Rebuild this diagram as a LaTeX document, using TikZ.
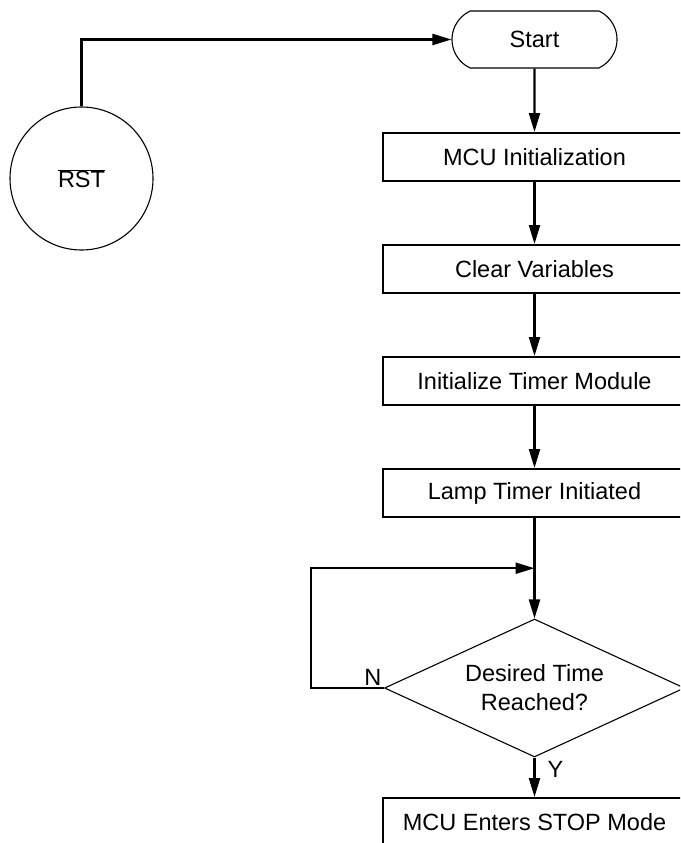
\documentclass[tikz,border=0pt]{standalone}
\usepackage{fontspec}
\setmainfont{Liberation Sans}
\usetikzlibrary{shapes.geometric,shapes.misc,arrows.meta}

\begin{document}
\begin{tikzpicture}[x=1pt,y=-1pt,
    every node/.style={font=\fontsize{23.5}{29}\selectfont},
    stepbox/.style={draw, rectangle, line width=2pt, minimum width=304pt, minimum height=48pt, inner sep=0pt},
    flow/.style={-{Triangle[length=19pt,width=11pt]}, line width=2.2pt}]
            \def\colx{534.5}

            % Page frame, boxes run off the right and bottom edge
            \useasboundingbox (0,0) rectangle (680,843);
            \clip (0,0) rectangle (680,843);

            % Reset circle and start terminal
            \node[draw, circle, line width=1.1pt, minimum size=143pt, inner sep=0pt] (rst) at (81.5,178.5) {$\overline{\mbox{RST}}$};
            \node[draw, rounded rectangle, rounded rectangle arc length=130, line width=1.1pt,
                  minimum width=165pt, minimum height=57pt, inner sep=0pt] (start) at (\colx,39.5) {Start};

            % Process boxes
            \node[stepbox] (init)  at (\colx,157) {MCU Initialization};
            \node[stepbox] (clear) at (\colx,269) {Clear Variables};
            \node[stepbox] (timer) at (\colx,381) {Initialize Timer Module};
            \node[stepbox] (lamp)  at (\colx,493) {Lamp Timer Initiated};

            % Decision and end box
            \node[draw, diamond, shape aspect=2.17, line width=1.1pt, minimum width=300pt, minimum height=138pt,
                  inner sep=0pt, align=center] (check) at (\colx,688) {Desired Time\\Reached?};
            \node[stepbox] (stop) at (\colx,822) {MCU Enters STOP Mode};

            % Connectors
            \draw[flow] (rst.north) |- (start.west);
            \draw[flow] (start) -- (init);
            \draw[flow] (init) -- (clear);
            \draw[flow] (clear) -- (timer);
            \draw[flow] (timer) -- (lamp);
            \draw[flow] (lamp) -- (check);

            % Wait loop back into the column
            \path (lamp.south) -- (check.north) coordinate[pos=0.5] (join);
            \coordinate (back) at (311,688);
            \draw[flow] (check.west) -- node[pos=0, anchor=south east, inner sep=1.5pt] (no) {N} (back) |- (join);
            \draw[flow] (check.south) -- node[pos=0, anchor=north west, inner sep=3pt, xshift=9pt] (yes) {Y} (stop.north);
        \end{tikzpicture}
\end{document}
